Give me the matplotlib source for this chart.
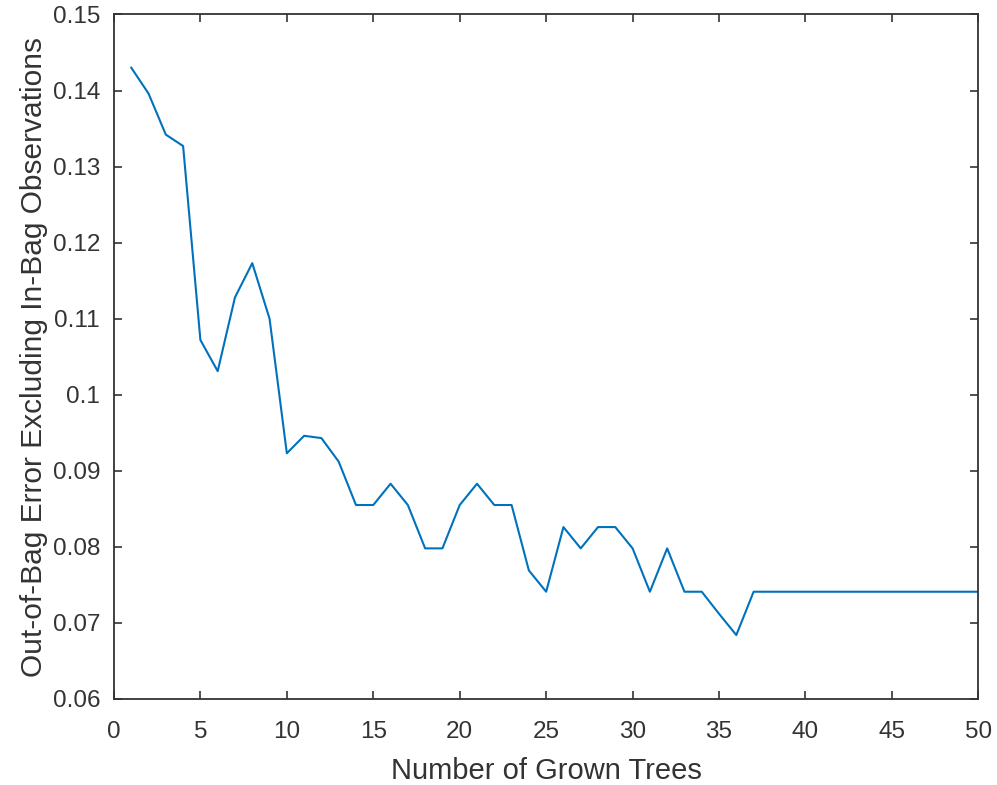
import matplotlib
matplotlib.use("Agg")
import matplotlib.pyplot as plt

plt.rcParams['font.family'] = ['Liberation Sans', 'DejaVu Sans']

trees = list(range(1, 51))
oob_error = [
    0.1430, 0.1396, 0.1342, 0.1327, 0.1072, 0.1031, 0.1128, 0.1173, 0.1100, 0.0923,
    0.0946, 0.0943, 0.0912, 0.0855, 0.0855, 0.0883, 0.0855, 0.0798, 0.0798, 0.0855,
    0.0883, 0.0855, 0.0855, 0.0769, 0.0741, 0.0826, 0.0798, 0.0826, 0.0826, 0.0798,
    0.0741, 0.0798, 0.0741, 0.0741, 0.0712, 0.0684, 0.0741, 0.0741, 0.0741, 0.0741,
    0.0741, 0.0741, 0.0741, 0.0741, 0.0741, 0.0741, 0.0741, 0.0741, 0.0741, 0.0741,
]
xticks = [0, 5, 10, 15, 20, 25, 30, 35, 40, 45, 50]
yticks = [0.06, 0.07, 0.08, 0.09, 0.1, 0.11, 0.12, 0.13, 0.14, 0.15]
ytick_labels = ['0.06', '0.07', '0.08', '0.09', '0.1', '0.11', '0.12', '0.13', '0.14', '0.15']

axis_col = '#333333'
fig = plt.figure(figsize=(9.97, 7.85), dpi=100)
ax = fig.add_axes([0.1143, 0.1096, 0.867, 0.872])
ax.plot(trees, oob_error, color='#0072BD', linewidth=1.5)

ax.set_xlim(0, 50)
ax.set_ylim(0.06, 0.15)
ax.set_xticks(xticks)
ax.set_yticks(yticks)
ax.set_yticklabels(ytick_labels)
ax.tick_params(direction='in', length=6, width=1.2, colors=axis_col, labelsize=17.5,
               top=True, right=True)
ax.tick_params(axis='x', pad=16)
ax.tick_params(axis='y', pad=10)
for s in ax.spines.values():
    s.set_color(axis_col)
    s.set_linewidth(1.3)

ax.set_xlabel('Number of Grown Trees', fontsize=21, color=axis_col, labelpad=10)
ax.set_ylabel('Out-of-Bag Error Excluding In-Bag Observations', fontsize=21.5, color=axis_col, labelpad=3)

fig.savefig('out.png', dpi=100)
